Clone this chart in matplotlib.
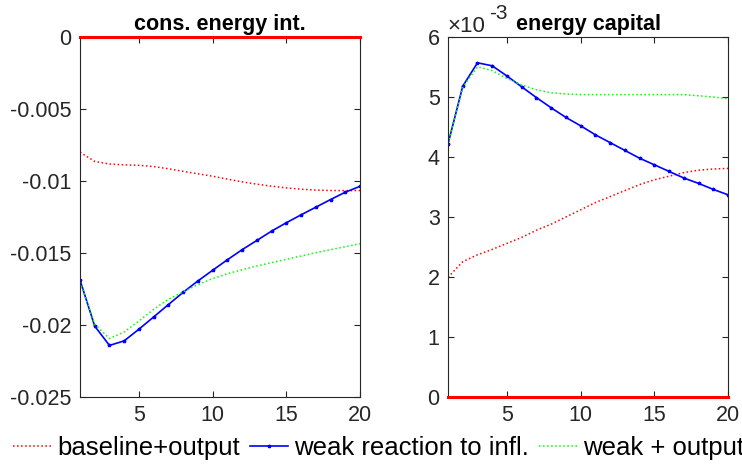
import numpy as np
import matplotlib
matplotlib.use("Agg")
from matplotlib import pyplot as plt
from matplotlib.ticker import FuncFormatter

plt.rcParams['font.family'] = ['Liberation Sans', 'DejaVu Sans']
plt.rcParams['axes.unicode_minus'] = False

# horizon (quarters)
periods = np.arange(1, 21)

# cons. energy int.
cei_base = [-0.0080, -0.00864, -0.00882, -0.00888, -0.00891, -0.00900, -0.00915, -0.00933,
            -0.00950, -0.00967, -0.00987, -0.01006, -0.01022, -0.01036, -0.01048, -0.01057,
            -0.01063, -0.01066, -0.01067, -0.01066]
cei_weak = [-0.01688, -0.02008, -0.02142, -0.0211, -0.02029, -0.01944, -0.01858, -0.01773,
            -0.01694, -0.0162, -0.01547, -0.01477, -0.01413, -0.01348, -0.0129, -0.01235,
            -0.01182, -0.01129, -0.01078, -0.01037]
cei_weak_out = [-0.0170, -0.01994, -0.02094, -0.02048, -0.01972, -0.01891, -0.01821, -0.0177,
                -0.0172, -0.01678, -0.01644, -0.01616, -0.0159, -0.01567, -0.01544, -0.01521,
                -0.01498, -0.01477, -0.01456, -0.01436]

# energy capital (x 1e-3)
ek_base = np.array([1.995, 2.255, 2.37, 2.46, 2.56, 2.66, 2.78, 2.88, 3.0, 3.12,
                    3.24, 3.34, 3.44, 3.54, 3.62, 3.68, 3.74, 3.78, 3.80, 3.81]) * 1e-3
ek_weak = np.array([4.217, 5.18, 5.57, 5.52, 5.35, 5.17, 4.99, 4.82, 4.66, 4.52,
                    4.37, 4.24, 4.11, 3.98, 3.87, 3.76, 3.65, 3.56, 3.46, 3.37]) * 1e-3
ek_weak_out = np.array([4.23, 5.16, 5.505, 5.44, 5.31, 5.2, 5.12, 5.07, 5.05, 5.04,
                        5.04, 5.04, 5.04, 5.04, 5.04, 5.04, 5.04, 5.02, 5.0, 4.97]) * 1e-3

labels = ['baseline+output', 'weak reaction to infl.', 'weak + output']

axcol = '#262626'
fig = plt.figure(figsize=(7.42, 4.65), dpi=100)
ax1 = fig.add_axes([80/742, 68/465, 280/742, 360/465])
ax2 = fig.add_axes([448/742, 68/465, 280/742, 360/465])


def draw(ax, base, weak, weak_out):
    h1, = ax.plot(periods, base, color='red', ls=':', lw=1.1)
    h2, = ax.plot(periods, weak, color='blue', ls='-', lw=1.2, marker='*', ms=2.5)
    h3, = ax.plot(periods, weak_out, color='#00ff00', ls=':', lw=1.1)
    ax.plot(periods, np.zeros(len(periods)), color='red', lw=2.2, clip_on=False, zorder=5)
    ax.set_xlim(1, 20)
    ax.set_xticks([5, 10, 15, 20])
    ax.tick_params(direction='in', top=True, right=True, length=4, width=0.8,
                   labelsize=15.5, colors=axcol, pad=6)
    for s in ax.spines.values():
        s.set_color(axcol)
        s.set_linewidth(0.8)
    return h1, h2, h3


handles = draw(ax1, cei_base, cei_weak, cei_weak_out)
ax1.set_ylim(-0.025, 0)
ax1.set_yticks([-0.025, -0.02, -0.015, -0.01, -0.005, 0])
ax1.yaxis.set_major_formatter(FuncFormatter(lambda v, p: '%g' % round(v, 4)))
ax1.set_title('cons. energy int.', fontsize=15.5, fontweight='bold', pad=5)

draw(ax2, ek_base, ek_weak, ek_weak_out)
ax2.set_ylim(0, 6e-3)
ax2.set_yticks(np.arange(0, 7) * 1e-3)
ax2.yaxis.set_major_formatter(FuncFormatter(lambda v, p: '%g' % round(v * 1e3, 3)))
ax2.set_title('energy capital', fontsize=15.5, fontweight='bold', pad=5)
# exponent label, MATLAB style
fig.text(447/742, 1 - 32/465, '\u00d710', fontsize=16, color=axcol,
         ha='left', va='baseline')
fig.text(489/742, 1 - 19/465, '-3', fontsize=15, color=axcol,
         ha='left', va='baseline')

# legend runs off the right edge, as in the original
fig.legend(handles, labels, loc='center left', bbox_to_anchor=(8/742, 17/465), ncol=3,
           frameon=False, fontsize=18.5, handlelength=1.5, handletextpad=0.22,
           columnspacing=0.38, borderaxespad=0, borderpad=0.2)

fig.savefig('out.png', dpi=100)
